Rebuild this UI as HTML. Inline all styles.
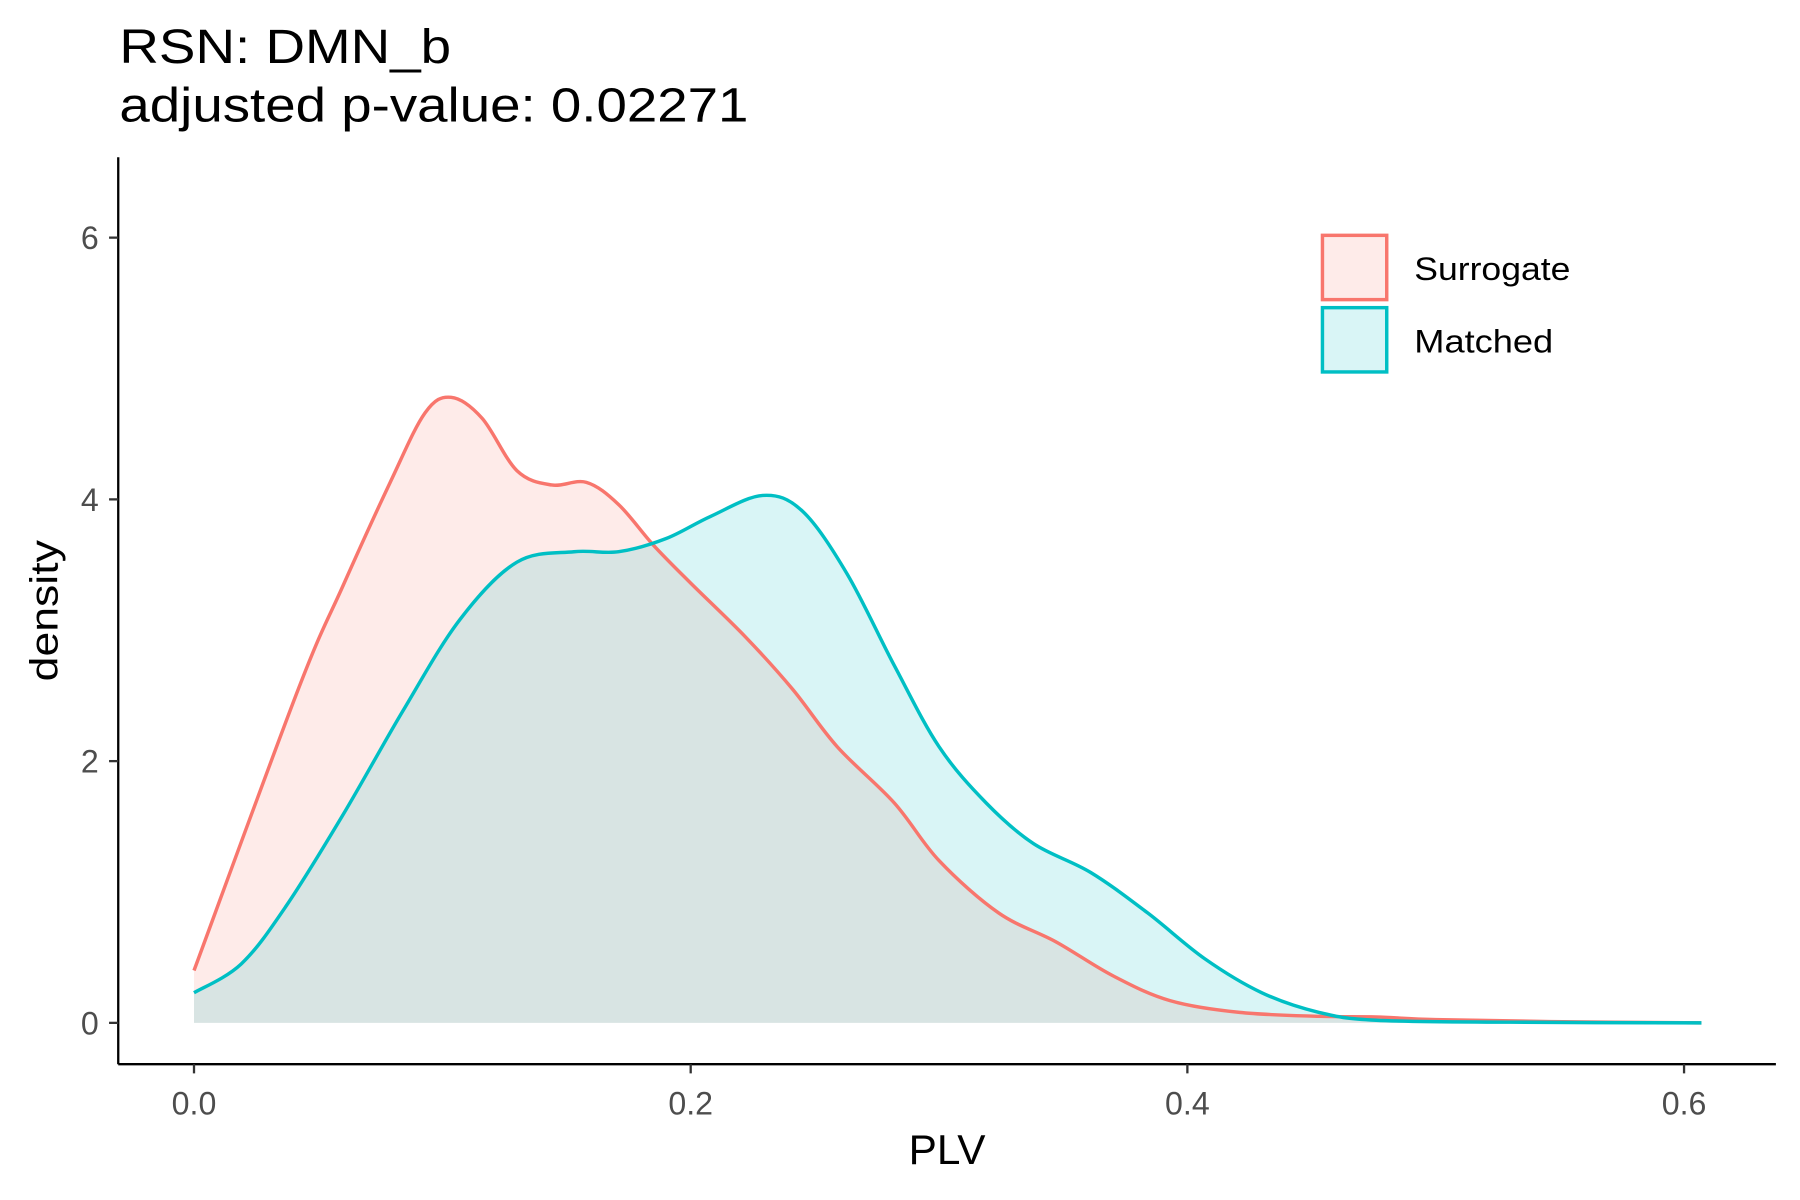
<!DOCTYPE html>
<html><head><meta charset="utf-8"><style>
html,body{margin:0;padding:0;background:#fff;}
svg{display:block;font-family:"Liberation Sans",sans-serif;}
</style></head><body>
<svg id="chart" width="1800" height="1200" viewBox="0 0 1568 1045.3" preserveAspectRatio="none" xmlns="http://www.w3.org/2000/svg">
<text x="104" y="55" font-size="42" fill="#000" textLength="289" lengthAdjust="spacingAndGlyphs">RSN: DMN_b</text>
<text x="104" y="106" font-size="42" fill="#000" textLength="548" lengthAdjust="spacingAndGlyphs">adjusted p-value: 0.02271</text>
<g id="marks"></g>
<line x1="103" y1="137" x2="103" y2="927" stroke="#000" stroke-width="2"/>
<line x1="103" y1="927" x2="1547" y2="927" stroke="#000" stroke-width="2"/>
<g id="ticks"></g>
<text x="825" y="1014" font-size="36" text-anchor="middle" textLength="67" lengthAdjust="spacingAndGlyphs">PLV</text>
<text transform="translate(50,532) rotate(-90)" font-size="34" text-anchor="middle" textLength="123" lengthAdjust="spacingAndGlyphs">density</text>
<g>
<rect x="1152" y="205" width="56" height="56" fill="rgba(248,118,109,0.15)" stroke="#F8766D" stroke-width="3"/>
<text x="1232" y="244" font-size="28" textLength="136" lengthAdjust="spacingAndGlyphs">Surrogate</text>
<rect x="1152" y="268" width="56" height="56" fill="rgba(0,191,196,0.15)" stroke="#00BFC4" stroke-width="3"/>
<text x="1232" y="307" font-size="28" textLength="121" lengthAdjust="spacingAndGlyphs">Matched</text>
</g>
</svg>
<script>
const surX=[0,0.042,0.06,0.079,0.093,0.1035,0.116,0.13,0.144,0.158,0.171,0.185,0.2,0.222,0.241,0.259,0.282,0.30,0.324,0.347,0.37,0.393,0.421,0.453,0.476,0.5,0.546,0.607];
const surY=[0.40,2.55,3.34,4.13,4.66,4.78,4.62,4.22,4.11,4.13,3.96,3.65,3.36,2.95,2.55,2.11,1.68,1.24,0.84,0.62,0.36,0.17,0.08,0.05,0.045,0.025,0.01,0];
const matX=[0,0.019,0.037,0.06,0.084,0.107,0.13,0.153,0.171,0.19,0.208,0.229,0.245,0.263,0.282,0.30,0.319,0.338,0.361,0.384,0.407,0.43,0.453,0.476,0.53,0.607];
const matY=[0.23,0.45,0.89,1.59,2.38,3.08,3.52,3.60,3.60,3.70,3.87,4.03,3.91,3.43,2.73,2.11,1.68,1.37,1.15,0.84,0.49,0.23,0.08,0.02,0.005,0];
const xTicks=[0,0.2,0.4,0.6];
const xTickLabels=["0.0","0.2","0.4","0.6"];
const yTicks=[0,2,4,6];
const yTickLabels=["0","2","4","6"];
const NS="http://www.w3.org/2000/svg";
const sx=v=>169+v*(1467-169)/0.6;
const sy=v=>891-v*(891-207)/6;
function smooth(xs,ys){
  const p=xs.map((x,i)=>[sx(x),sy(ys[i])]);
  let d=`M${p[0][0]},${p[0][1]}`;
  for(let i=0;i<p.length-1;i++){
    const p0=p[Math.max(0,i-1)],p1=p[i],p2=p[i+1],p3=p[Math.min(p.length-1,i+2)];
    const c1=[p1[0]+(p2[0]-p0[0])/6,p1[1]+(p2[1]-p0[1])/6];
    const c2=[p2[0]-(p3[0]-p1[0])/6,p2[1]-(p3[1]-p1[1])/6];
    d+=` C${c1[0]},${c1[1]} ${c2[0]},${c2[1]} ${p2[0]},${p2[1]}`;
  }
  return d;
}
const marks=document.getElementById('marks');
function series(xs,ys,col,fill,name){
  const line=smooth(xs,ys);
  const a=document.createElementNS(NS,'path');
  a.setAttribute('d',line+` L${sx(xs[xs.length-1])},${sy(0)} L${sx(xs[0])},${sy(0)} Z`);
  a.setAttribute('fill',fill);
  
  
  marks.appendChild(a);
  return [line,col,name];
}
const s1=series(surX,surY,'#F8766D','rgba(248,118,109,0.15)','surrogate');
const s2=series(matX,matY,'#00BFC4','rgba(0,191,196,0.15)','matched');
[s1,s2].forEach(([d,col,name])=>{
  const l=document.createElementNS(NS,'path');
  l.setAttribute('d',d);l.setAttribute('fill','none');l.setAttribute('stroke',col);l.setAttribute('stroke-width','3');
  
  
  marks.appendChild(l);
});
const ticks=document.getElementById('ticks');
xTicks.forEach((v,i)=>{
  const t=document.createElementNS(NS,'line');
  t.setAttribute('x1',sx(v));t.setAttribute('x2',sx(v));t.setAttribute('y1',927);t.setAttribute('y2',935);t.setAttribute('stroke','#333');t.setAttribute('stroke-width','2');
  
  
  ticks.appendChild(t);
  const tx=document.createElementNS(NS,'text');
  tx.setAttribute('x',sx(v));tx.setAttribute('y',971);tx.setAttribute('font-size','28');tx.setAttribute('text-anchor','middle');tx.setAttribute('fill','#4d4d4d');
  tx.textContent=xTickLabels[i];
  
  
  ticks.appendChild(tx);
});
yTicks.forEach((v,i)=>{
  const t=document.createElementNS(NS,'line');
  t.setAttribute('x1',95);t.setAttribute('x2',103);t.setAttribute('y1',sy(v));t.setAttribute('y2',sy(v));t.setAttribute('stroke','#333');t.setAttribute('stroke-width','2');
  
  
  ticks.appendChild(t);
  const tx=document.createElementNS(NS,'text');
  tx.setAttribute('x',86);tx.setAttribute('y',sy(v)+10);tx.setAttribute('font-size','28');tx.setAttribute('text-anchor','end');tx.setAttribute('fill','#4d4d4d');
  tx.textContent=yTickLabels[i];
  
  
  ticks.appendChild(tx);
});
</script>
</body></html>
